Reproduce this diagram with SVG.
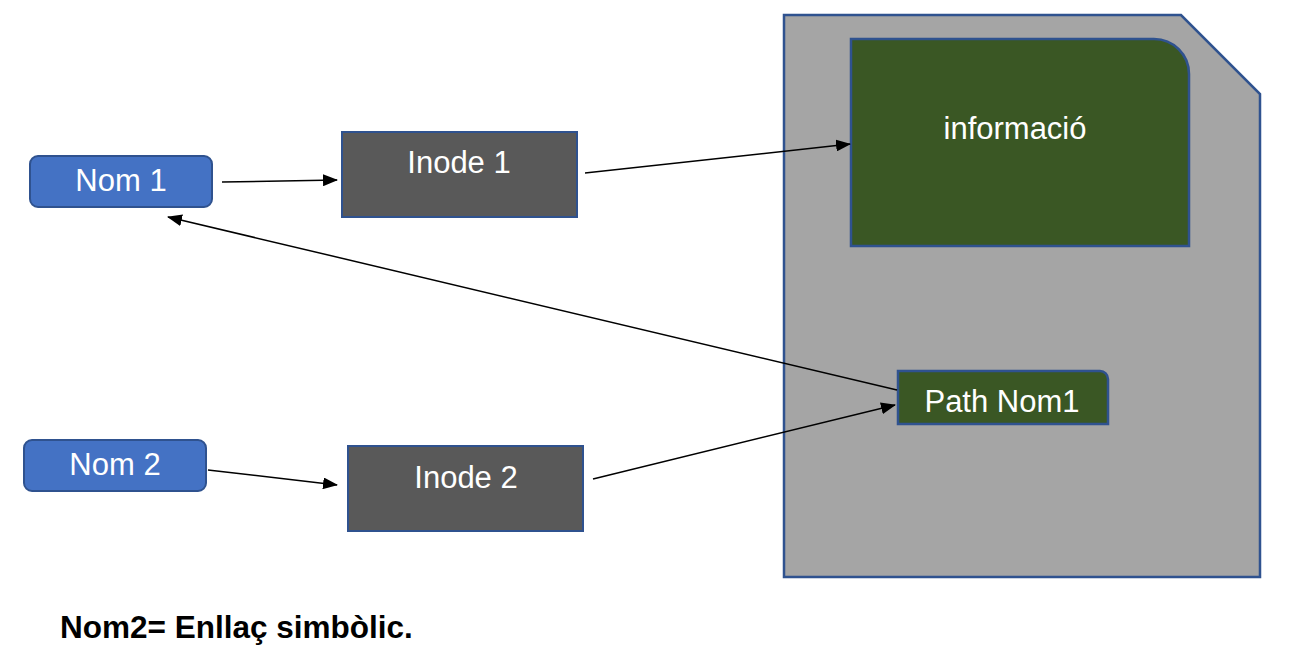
<svg xmlns="http://www.w3.org/2000/svg" width="1303" height="647" viewBox="0 0 1303 647">
<style>
.name{fill:#4472C4;stroke:#2F528F;stroke-width:2}
.inode{fill:#595959;stroke:#2F528F;stroke-width:2}
.green{fill:#3A5724;stroke:#2F528F;stroke-width:2.5}
.file{fill:#A5A5A5;stroke:#2F528F;stroke-width:2.5}
.lbl{font-family:"Liberation Sans",Arial,sans-serif;font-size:31px;fill:#FFFFFF;text-anchor:middle}
.conn line{stroke:#000;stroke-width:1.5;marker-end:url(#arr)}
</style>
<defs>
<marker id="arr" markerWidth="15" markerHeight="12" refX="14" refY="6" orient="auto" markerUnits="userSpaceOnUse">
<path d="M0,0 L15,6 L0,12 Z" fill="#000"/>
</marker>
</defs>
<rect width="1303" height="647" fill="#FFFFFF"/>
<g id="file">
<path class="file" d="M784,15 L1181,15 L1260,94 L1260,577 L784,577 Z"/>
</g>
<g id="informacio">
<path class="green" d="M851,39 L1154,39 A35,35 0 0 1 1189,74 L1189,246 L851,246 Z"/>
<text class="lbl" x="1015" y="139">informació</text>
</g>
<g id="pathnom1">
<path class="green" d="M898,371 L1100,371 A8,8 0 0 1 1108,379 L1108,424 L898,424 Z"/>
<text class="lbl" x="1002" y="412">Path Nom1</text>
</g>
<g id="nom1">
<rect class="name" x="30" y="156" width="182" height="51" rx="8"/>
<text class="lbl" x="121" y="191">Nom 1</text>
</g>
<g id="nom2">
<rect class="name" x="24" y="440" width="182" height="51" rx="8"/>
<text class="lbl" x="115" y="475">Nom 2</text>
</g>
<g id="inode1">
<rect class="inode" x="342" y="132" width="235" height="85"/>
<text class="lbl" x="459" y="173">Inode 1</text>
</g>
<g id="inode2">
<rect class="inode" x="348" y="446" width="235" height="85"/>
<text class="lbl" x="466" y="488">Inode 2</text>
</g>
<g class="conn" id="connectors">
<line x1="222" y1="182" x2="337" y2="180"/>
<line x1="585" y1="173" x2="850" y2="144"/>
<line x1="897" y1="390" x2="168" y2="217"/>
<line x1="208" y1="470" x2="337" y2="485"/>
<line x1="593" y1="479" x2="895" y2="405"/>
</g>
<text x="60" y="638" font-family="'Liberation Sans',Arial,sans-serif" font-size="31.5" font-weight="bold" fill="#000">Nom2= Enllaç simbòlic.</text>
</svg>
